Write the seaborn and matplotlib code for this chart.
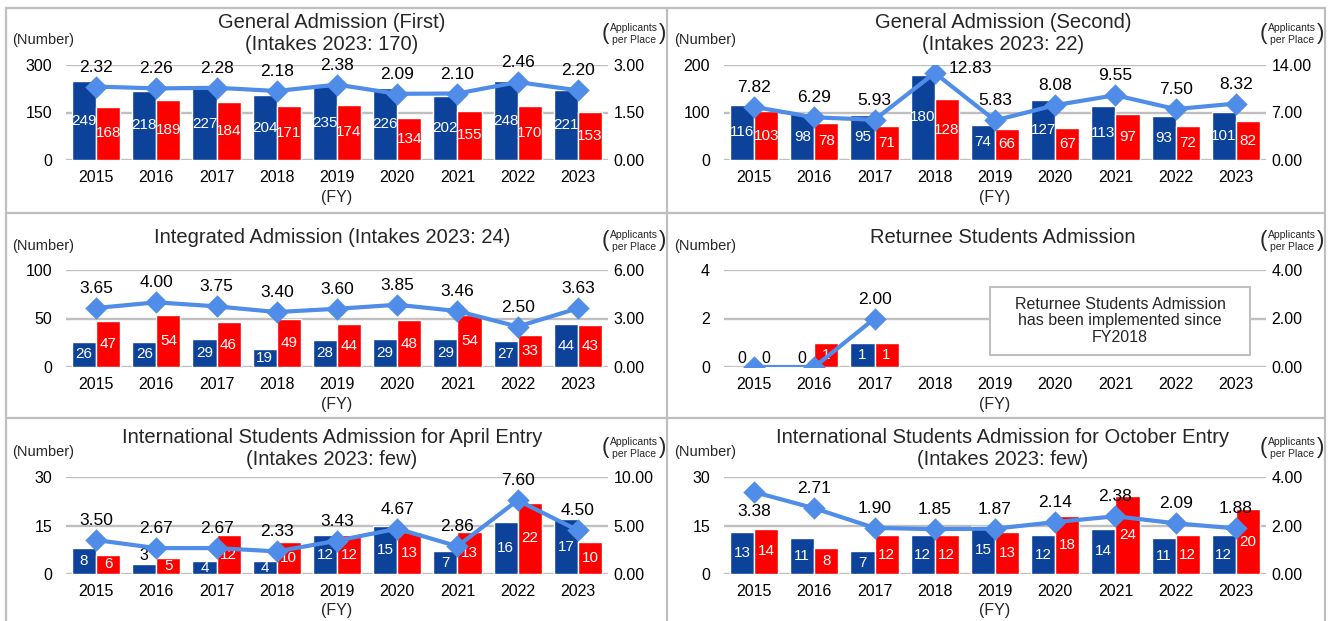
import numpy as np
import pandas as pd
import matplotlib
matplotlib.use("Agg")
import matplotlib.pyplot as plt
import seaborn as sns
from matplotlib.lines import Line2D
from matplotlib.patches import Rectangle

# ---------------- data ----------------
years = ["2015", "2016", "2017", "2018", "2019", "2020", "2021", "2022", "2023"]
nan = np.nan

gen1_blue = [249, 218, 227, 204, 235, 226, 202, 248, 221]
gen1_red = [168, 189, 184, 171, 174, 134, 155, 170, 153]
gen1_ratio = [2.32, 2.26, 2.28, 2.18, 2.38, 2.09, 2.10, 2.46, 2.20]

gen2_blue = [116, 98, 95, 180, 74, 127, 113, 93, 101]
gen2_red = [103, 78, 71, 128, 66, 67, 97, 72, 82]
gen2_ratio = [7.82, 6.29, 5.93, 12.83, 5.83, 8.08, 9.55, 7.50, 8.32]

integ_blue = [26, 26, 29, 19, 28, 29, 29, 27, 44]
integ_red = [47, 54, 46, 49, 44, 48, 54, 33, 43]
integ_ratio = [3.65, 4.00, 3.75, 3.40, 3.60, 3.85, 3.46, 2.50, 3.63]

ret_blue = [0, 0, 1, nan, nan, nan, nan, nan, nan]
ret_red = [0, 1, 1, nan, nan, nan, nan, nan, nan]
ret_ratio = [0.0, 0.0, 2.00, nan, nan, nan, nan, nan, nan]

apr_blue = [8, 3, 4, 4, 12, 15, 7, 16, 17]
apr_red = [6, 5, 12, 10, 12, 13, 13, 22, 10]
apr_ratio = [3.50, 2.67, 2.67, 2.33, 3.43, 4.67, 2.86, 7.60, 4.50]

oct_blue = [13, 11, 7, 12, 15, 12, 14, 11, 12]
oct_red = [14, 8, 12, 12, 13, 18, 24, 12, 20]
oct_ratio = [3.38, 2.71, 1.90, 1.85, 1.87, 2.14, 2.38, 2.09, 1.88]

titles = [
    "General Admission (First)\n(Intakes 2023: 170)",
    "General Admission (Second)\n(Intakes 2023: 22)",
    "Integrated Admission (Intakes 2023: 24)",
    "Returnee Students Admission",
    "International Students Admission for April Entry\n(Intakes 2023: few)",
    "International Students Admission for October Entry\n(Intakes 2023: few)",
]
left_max = [300, 200, 100, 4, 30, 30]
right_max = [3.0, 14.0, 6.0, 4.0, 10.0, 4.0]
note_text = "Returnee Students Admission\nhas been implemented since\nFY2018"

blues = [gen1_blue, gen2_blue, integ_blue, ret_blue, apr_blue, oct_blue]
reds = [gen1_red, gen2_red, integ_red, ret_red, apr_red, oct_red]
ratios = [gen1_ratio, gen2_ratio, integ_ratio, ret_ratio, apr_ratio, oct_ratio]

# ---------------- style ----------------
sns.set_theme(style="white")
plt.rcParams["font.family"] = ["Liberation Sans", "DejaVu Sans"]

BLUE = "#0D429A"
RED = "#FF0000"
LINE = "#4F8DE8"
GRID = "#BFBFBF"

W, H = 1332, 621
fig = plt.figure(figsize=(W / 100, H / 100), dpi=100)

def fx(x):
    return x / W

def fy(y):
    return 1 - y / H

col_x = [(66, 608), (724, 1266)]
row_y = [(65, 160), (270, 367), (477, 574)]
title_cx = [332, 1003]
units_cx = [634, 1292]

# panel borders
for x in (6, 667, 1325):
    fig.add_artist(Line2D([fx(x), fx(x)], [fy(8), fy(621)], color=GRID, lw=1.6))
for y in (8, 213, 418):
    fig.add_artist(Line2D([fx(6), fx(1325)], [fy(y), fy(y)], color=GRID, lw=1.6))

for k in range(6):
    r, c = divmod(k, 2)
    x0, x1 = col_x[c]
    y0, y1 = row_y[r]
    ax = fig.add_axes([fx(x0), fy(y1), fx(x1) - fx(x0), (y1 - y0) / H])
    df = pd.DataFrame({
        "year": years * 2,
        "value": list(blues[k]) + list(reds[k]),
        "series": ["Applicants"] * len(years) + ["Admitted"] * len(years),
    })
    sns.barplot(data=df, x="year", y="value", hue="series", order=years,
                palette=[BLUE, RED], saturation=1, width=0.8, errorbar=None,
                legend=False, ax=ax)
    ymax = left_max[k]
    ax.set_ylim(0, ymax)
    ax.set_yticks([0, ymax / 2, ymax])
    ax.set_yticklabels([f"{v:g}" for v in [0, ymax / 2, ymax]])
    ax.grid(axis="y", color=GRID, lw=1.7)
    ax.grid(axis="x", visible=False)
    ax.set_axisbelow(True)
    for s in ax.spines.values():
        s.set_visible(False)
    ax.tick_params(axis="both", length=0, labelsize=11.5, colors="black")
    ax.tick_params(axis="y", pad=10)
    ax.tick_params(axis="x", pad=7)
    ax.set_xlabel("")
    ax.set_ylabel("")
    ax.set_xlim(-0.5, len(years) - 0.5)

    # bar labels
    for cont in ax.containers:
        for rect in cont:
            v = rect.get_height()
            if v is None or np.isnan(v):
                continue
            cx = rect.get_x() + rect.get_width() / 2
            if v / ymax < 0.12:
                ax.annotate(f"{v:g}", (cx, v), xytext=(0, 1), textcoords="offset points",
                            ha="center", va="bottom", fontsize=11.5, color="black")
            else:
                ax.text(cx, v / 2, f"{v:g}", ha="center", va="center",
                        fontsize=11, color="white")

    # ratio line
    ax2 = ax.twinx()
    rmax = right_max[k]
    sns.pointplot(x=years, y=ratios[k], order=years, color=LINE, markers="D",
                  markersize=9, linewidth=3, errorbar=None, ax=ax2)
    ax2.set_ylim(0, rmax)
    ax2.set_yticks([0, rmax / 2, rmax])
    ax2.set_yticklabels([f"{v:.2f}" for v in [0, rmax / 2, rmax]])
    for s in ax2.spines.values():
        s.set_visible(False)
    ax2.tick_params(axis="y", length=0, labelsize=11.5, pad=4, colors="black")
    ax2.grid(False)
    ax2.set_ylabel("")
    ax2.set_xlim(-0.5, len(years) - 0.5)
    for i, v in enumerate(ratios[k]):
        if np.isnan(v) or v <= 0:
            continue
        frac = v / rmax
        if frac > 0.9:
            xy, ha, va = (10, 3), "left", "center"
        elif frac > 0.84:
            xy, ha, va = (0, -14), "center", "center"
        else:
            xy, ha, va = (0, 14), "center", "center"
        ax2.annotate(f"{v:.2f}", (i, v), xytext=xy, textcoords="offset points",
                     ha=ha, va=va, fontsize=12.5, color="black")

    # titles and axis captions
    tcy = [33.5, 238, 448.5][r]
    fig.text(fx(title_cx[c]), fy(tcy), titles[k], ha="center", va="center",
             fontsize=14.5, linespacing=1.15)
    ncy = [40, 246, 452][r]
    fig.text(fx(12 + c * 662), fy(ncy), "(Number)", ha="left", va="center", fontsize=10.5)
    ucy = [34, 241, 448][r]
    fig.text(fx(units_cx[c]), fy(ucy), "Applicants\nper Place", ha="center", va="center",
             fontsize=7.5, linespacing=1.35)
    fig.text(fx(units_cx[c] - 29), fy(ucy), "(", ha="center", va="center", fontsize=16)
    fig.text(fx(units_cx[c] + 29), fy(ucy), ")", ha="center", va="center", fontsize=16)
    fig.text(fx((x0 + x1) / 2), fy(y1 + 37), "(FY)", ha="center", va="center", fontsize=11.5)

    if k == 3:
        bx0, by0, bx1, by1 = 990, 287, 1250, 355
        fig.add_artist(Rectangle((fx(bx0), fy(by1)), fx(bx1) - fx(bx0), fy(by0) - fy(by1),
                                 facecolor="white", edgecolor=GRID, lw=1.5))
        fig.text(fx((bx0 + bx1) / 2), fy((by0 + by1) / 2), note_text, ha="center",
                 va="center", fontsize=11.5, linespacing=1.15)

fig.savefig("out.png", dpi=100)
